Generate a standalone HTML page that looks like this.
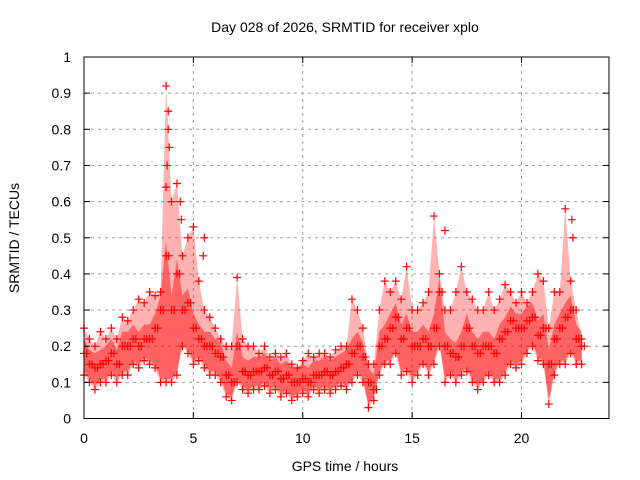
<!DOCTYPE html>
<html><head><meta charset="utf-8"><style>
body{margin:0;background:#fff}
svg{display:block;font-family:"Liberation Sans",sans-serif}
</style></head><body>
<svg id="chart" width="640" height="480">
<text x="345" y="32" font-size="14" text-anchor="middle">Day 028 of 2026, SRMTID for receiver xplo</text>
<text x="345" y="471" font-size="14" text-anchor="middle">GPS time / hours</text>
<text x="19" y="238" font-size="14" text-anchor="middle" transform="rotate(-90 19 238)">SRMTID / TECUs</text>
<g id="grid"></g><g id="marks"></g>
<rect x="84" y="57" width="525" height="361.5" fill="none" stroke="#000" stroke-width="1"/>
</svg>
<script>
const xTicks=[0,5,10,15,20];
const yTicks=[0,0.1,0.2,0.3,0.4,0.5,0.6,0.7,0.8,0.9,1];
const yTickLabels=["0","0.1","0.2","0.3","0.4","0.5","0.6","0.7","0.8","0.9","1"];
const times=[0,0.25,0.5,0.75,1,1.25,1.5,1.75,2,2.25,2.5,2.75,3,3.25,3.5,3.75,4,4.25,4.5,4.75,5,5.25,5.5,5.75,6,6.25,6.5,6.75,7,7.25,7.5,7.75,8,8.25,8.5,8.75,9,9.25,9.5,9.75,10,10.25,10.5,10.75,11,11.25,11.5,11.75,12,12.25,12.5,12.75,13,13.25,13.5,13.75,14,14.25,14.5,14.75,15,15.25,15.5,15.75,16,16.25,16.5,16.75,17,17.25,17.5,17.75,18,18.25,18.5,18.75,19,19.25,19.5,19.75,20,20.25,20.5,20.75,21,21.25,21.5,21.75,22,22.25,22.5,22.75];
const lo=[.12,.1,.08,.1,.1,.12,.1,.12,.12,.15,.14,.16,.15,.14,.1,.1,.1,.12,.2,.18,.15,.16,.14,.12,.12,.1,.06,.05,.1,.08,.07,.08,.08,.09,.07,.08,.06,.07,.05,.06,.07,.06,.08,.07,.08,.07,.08,.09,.08,.1,.12,.1,.03,.05,.12,.15,.15,.18,.12,.13,.1,.12,.15,.12,.15,.2,.1,.12,.1,.12,.13,.1,.08,.1,.12,.1,.1,.12,.15,.14,.15,.18,.2,.16,.15,.04,.12,.15,.15,.18,.15,.15];
const mid=[.18,.15,.14,.15,.16,.18,.15,.2,.2,.22,.2,.22,.22,.25,.3,.45,.3,.4,.3,.32,.25,.22,.2,.2,.18,.17,.12,.1,.2,.13,.12,.13,.13,.14,.12,.13,.11,.12,.1,.1,.11,.1,.12,.12,.13,.12,.13,.14,.15,.18,.2,.17,.1,.08,.2,.22,.25,.28,.22,.25,.2,.2,.22,.2,.25,.35,.2,.18,.17,.2,.25,.2,.18,.2,.2,.18,.22,.24,.27,.25,.25,.27,.28,.23,.25,.15,.22,.25,.28,.3,.22,.2];
const hi=[.25,.22,.2,.24,.22,.25,.22,.28,.27,.3,.33,.32,.35,.34,.35,.92,.6,.65,.45,.5,.53,.38,.3,.28,.25,.22,.2,.2,.39,.22,.2,.2,.18,.2,.17,.18,.17,.18,.15,.14,.16,.18,.17,.18,.18,.17,.19,.2,.2,.33,.3,.25,.15,.15,.3,.38,.35,.38,.33,.42,.3,.3,.32,.35,.56,.4,.3,.3,.35,.42,.35,.33,.3,.3,.35,.3,.33,.37,.35,.32,.35,.32,.35,.4,.38,.25,.35,.35,.58,.38,.3,.22];
const peakTimes=[3.85,3.85,3.9,3.8,3.75,4.4,4.45,5.5,5.45,16.5,22.3,22.35];
const peakVals=[.85,.8,.75,.7,.64,.6,.55,.5,.45,.52,.55,.5];
const X=h=>84+h*21.875, Y=v=>418.5-v*361.5;
const NS="http://www.w3.org/2000/svg";
const svg=document.getElementById('chart'),grid=document.getElementById('grid'),marks=document.getElementById('marks');
function mk(t,a,p){const e=document.createElementNS(NS,t);for(const k in a)e.setAttribute(k,a[k]);(p||svg).appendChild(e);return e;}
yTicks.forEach((v,i)=>{
 if(v>0&&v<1){const g=mk('line',{x1:84,x2:609,y1:Y(v),y2:Y(v),stroke:'#a0a0a0','stroke-dasharray':'3,4','stroke-width':1},grid);
 
 }
 const t=mk('text',{x:71,y:Y(v)+5,'font-size':14,'text-anchor':'end'});t.textContent=yTickLabels[i];
 
 
 mk('line',{x1:84,x2:90,y1:Y(v),y2:Y(v),stroke:'#000'});mk('line',{x1:603,x2:609,y1:Y(v),y2:Y(v),stroke:'#000'});
});
xTicks.forEach(h=>{
 if(h>0){const g=mk('line',{x1:X(h),x2:X(h),y1:57,y2:418.5,stroke:'#a0a0a0','stroke-dasharray':'3,4'},grid);
 
 }
 const t=mk('text',{x:X(h),y:443,'font-size':14,'text-anchor':'middle'});t.textContent=h;
 
 
 mk('line',{x1:X(h),x2:X(h),y1:412,y2:418.5,stroke:'#000'});mk('line',{x1:X(h),x2:X(h),y1:57,y2:63,stroke:'#000'});
});
// dense cloud band between lo and hi
let d='M'+times.map((t,i)=>X(t)+' '+Y(hi[i])).join(' L')+' L'+times.map((t,i)=>X(t)+' '+Y(lo[i])).reverse().join(' L')+'Z';
const band=mk('path',{d:d,fill:'#ff0000','fill-opacity':0.3,stroke:'none'},marks);


let d2='M'+times.map((t,i)=>X(t)+' '+Y(mid[i]+0.04)).join(' L')+' L'+times.map((t,i)=>X(t)+' '+Y(lo[i]+0.01)).reverse().join(' L')+'Z';
const core=mk('path',{d:d2,fill:'#ff0000','fill-opacity':0.45,stroke:'none'},marks);


function plus(h,v){const x=X(h),y=Y(v);
 const p=mk('path',{d:`M${x-4} ${y}H${x+4}M${x} ${y-4}V${y+4}`,stroke:'#f00','stroke-width':1.2,fill:'none'},marks);
 
 }
times.forEach((t,i)=>{
 plus(t,lo[i]);plus(t,mid[i]);plus(t,hi[i]);
 plus(t+0.12,mid[i]);
});
peakTimes.forEach((t,i)=>plus(t,peakVals[i]));
</script>
</body></html>
